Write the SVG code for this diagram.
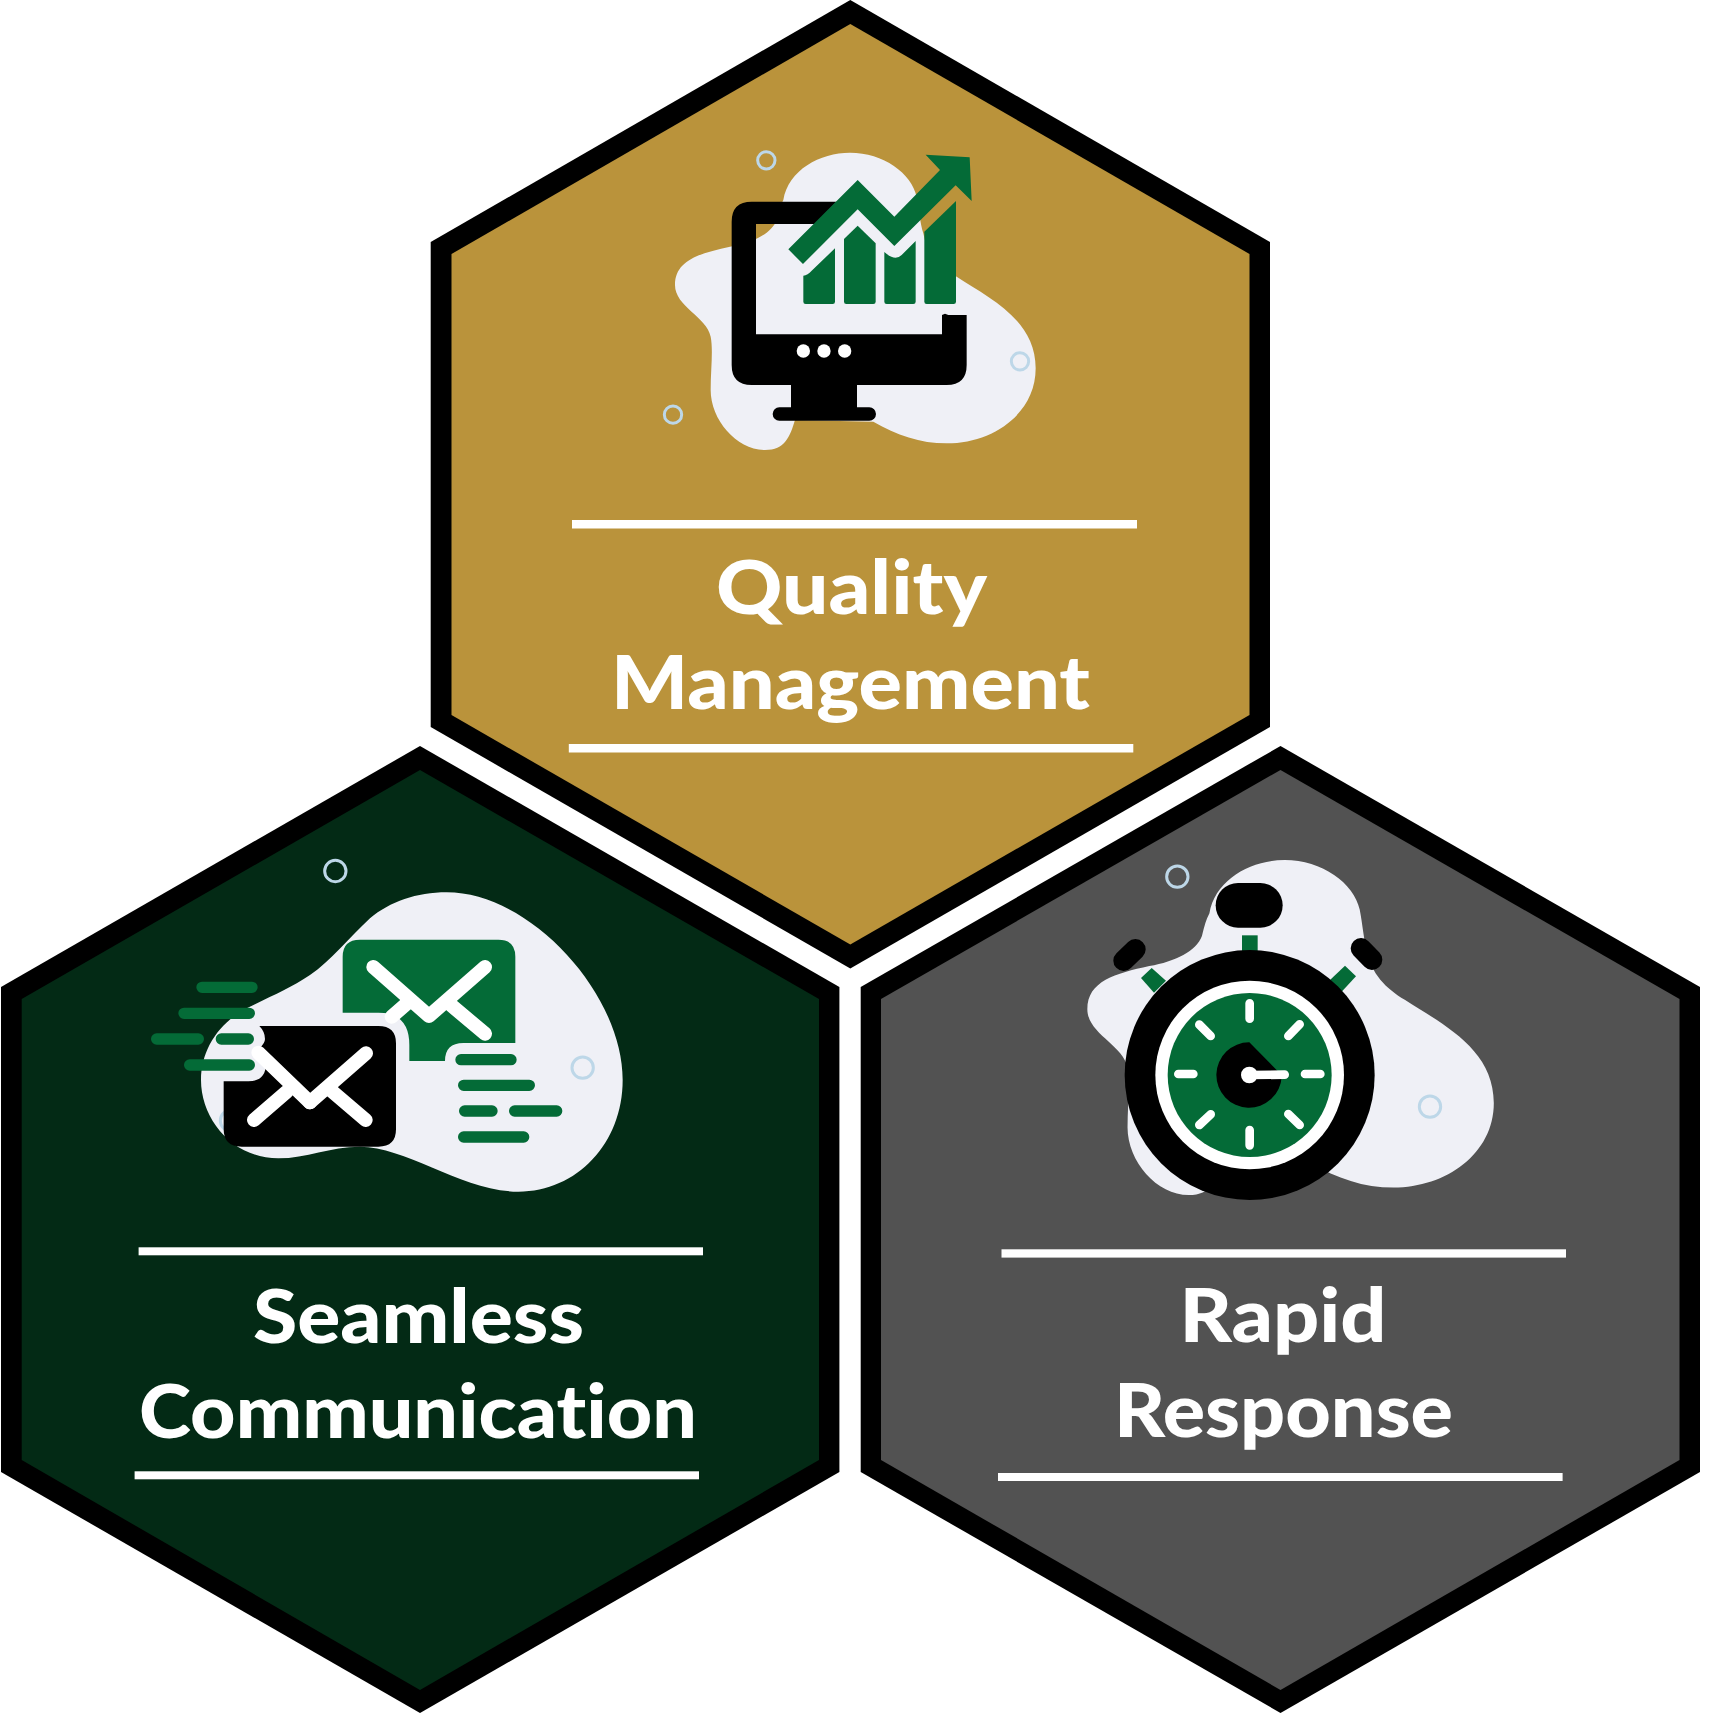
<svg xmlns="http://www.w3.org/2000/svg" xmlns:xlink="http://www.w3.org/1999/xlink" width="1724" height="1715" viewBox="0 0 1724 1715">
<style>
.t{font-family:"Lato","Noto Sans","Liberation Sans",sans-serif;font-weight:900;font-size:74px;fill:#fff;font-variant-ligatures:none}
.r{fill:#fff}
.b{fill:#EFF0F6}
.g{fill:#046B37}
.k{fill:#000}
.ring{fill:none;stroke:#BDD7E8;stroke-width:9}
.gb{stroke:#046B37;stroke-width:34;stroke-linecap:round;fill:none}
.w{stroke:#fff;stroke-linecap:round;stroke-linejoin:round;fill:none}
</style>
<defs>
<path id="blob" d="M630,98C730,98 815,160 830,230C838,270 840,310 850,340C860,400 900,440 950,470C1050,535 1187,600 1187,745C1187,880 1060,970 920,970C840,970 770,945 700,905L465,900C450,950 435,990 375,990C290,990 212,900 212,810C212,750 220,690 212,650C200,590 105,560 105,495C105,420 180,400 270,380C340,368 395,340 410,300C418,270 420,260 430,240C445,150 540,98 630,98Z"/>
</defs>
<rect width="1724" height="1715" fill="#fff"/>

<g id="quality-management">
<polygon class="k" points="850.3,0 1270,242 1270,727 850.3,968.5 430.7,727 430.7,242"/>
<polygon fill="#BA933B" points="850.3,24 1249.5,254 1249.5,715 850.3,944.5 451.5,715 451.5,254"/>
<g transform="translate(640 120) scale(.33333)">
<use xlink:href="#blob" href="#blob" class="b"/>
<circle class="ring" cx="379" cy="121" r="26"/><circle class="ring" cx="99" cy="884" r="26"/><circle class="ring" cx="1140" cy="724" r="26"/>
<path class="k" d="M590,245L335,245Q275,245 275,305L275,735Q275,795 335,795L453,795L453,862L418,862A20,20 0 0 0 418,902L688,902A20,20 0 0 0 688,862L651,862L651,795L920,795Q980,795 980,735L980,585L925,585L915,581L906,585L906,643L348,643L348,312L525,312Z"/>
<path class="g" d="M490,467Q503,465 515,452L585,385L585,545Q585,552 578,552L497,552Q490,552 490,545Z"/>
<path class="g" d="M612,357L653,317L707,370L707,545Q707,552 700,552L619,552Q612,552 612,545Z"/>
<path class="g" d="M733,396Q765,425 785,405L827,363L827,545Q827,552 820,552L740,552Q733,552 733,545Z"/>
<path class="g" d="M853,335L948,243L948,545Q948,552 941,552L860,552Q853,552 853,545Z"/>
<polygon class="g" points="445,388 653,180 763,290 900,150 857,104 989,112 995,243 947,196 763,378 653,268 489,432"/>
<circle class="r" cx="490" cy="693" r="20"/><circle class="r" cx="552" cy="693" r="20"/><circle class="r" cx="614" cy="693" r="20"/>
</g>
<rect class="r" x="572" y="520" width="565" height="8.5"/>
<text class="t" x="716" y="614" textLength="271" lengthAdjust="spacingAndGlyphs">Quality</text>
<text class="t" x="611" y="709" textLength="479" lengthAdjust="spacingAndGlyphs">Management</text>
<rect class="r" x="568.8" y="744" width="564.5" height="8.5"/>
</g>

<g id="seamless-communication">
<polygon class="k" points="420,746 839.4,987 839.4,1472 420,1713 1,1472 1,987"/>
<polygon fill="#032A15" points="420,770 819,999 819,1460 420,1690 21.7,1460 21.7,999"/>
<g transform="translate(130 860) scale(.33333)">
<circle class="ring" cx="616" cy="33" r="32"/>
<path class="b" d="M950,97C1200,97 1478,400 1478,660C1478,850 1340,995 1165,995C1000,995 830,860 690,860C600,860 530,895 445,895C310,895 213,780 213,660C213,570 265,490 350,445C430,405 480,385 540,345C600,305 660,230 720,175C780,125 860,97 950,97Z"/>
<circle class="ring" cx="1358" cy="623" r="32"/><circle class="ring" cx="303" cy="782" r="32"/>
<path class="g" d="M638,458L638,290Q638,239 690,239L1105,239Q1156,239 1156,290L1156,549L1000,549Q945,549 945,603L838,603L838,555Q838,458 745,458Z"/>
<path class="w" stroke-width="42" d="M730,321L897,468L1065,321M1065,521L965,437"/>
<path class="w" stroke-width="42" stroke-linecap="butt" d="M785,470L840,422"/>
<path class="k" d="M390,498L745,498Q798,498 798,550L798,808Q798,860 745,860L335,860Q281,860 281,808L281,664L355,664Q408,664 408,610Q408,585 388,565Q405,550 405,537Q405,515 388,498Z"/>
<path class="w" stroke-width="42" stroke-linecap="butt" d="M385,578L540,727"/>
<path class="w" stroke-width="42" d="M540,727L708,580M372,780L470,695M707,780L605,693"/>
<path class="gb" d="M216,382H366M162,460H358M80,537H205M274,537H355M179,615H358M993,599H1143M1001,676H1198M1004,753H1086M1154,753H1280M1001,831H1181"/>
</g>
<rect class="r" x="138.6" y="1247.3" width="564.4" height="8"/>
<text class="t" x="253" y="1342.7" textLength="331" lengthAdjust="spacingAndGlyphs">Seamless</text>
<text class="t" x="139" y="1438" textLength="558" lengthAdjust="spacingAndGlyphs">Communication</text>
<rect class="r" x="134.6" y="1471.3" width="564.4" height="8"/>
</g>

<g id="rapid-response">
<polygon class="k" points="1280.5,746 1700,987 1700,1472 1280.5,1713 860.7,1472 860.7,987"/>
<polygon fill="#525252" points="1280.5,770 1679.5,999 1679.5,1460 1280.5,1690 881,1460 881,999"/>
<g transform="translate(1080 850) scale(.33333)">
<use xlink:href="#blob" href="#blob" class="b" transform="translate(-96.3 -80.4) scale(1.127)"/>
<circle class="ring" cx="292" cy="80" r="32"/><circle class="ring" cx="1050" cy="770" r="32"/>
<rect class="k" x="407" y="99" width="201" height="134" rx="67"/>
<rect class="g" x="486" y="256" width="47" height="60"/>
<path d="M166,298L131,332M843,295L876,329" stroke="#000" stroke-width="62" stroke-linecap="round" fill="none"/>
<polygon class="g" points="215,354 258,392 222,428 183,384"/><polygon class="g" points="795,347 828,379 785,425 750,390"/>
<circle class="k" cx="509" cy="675" r="375"/>
<circle class="r" cx="509" cy="675" r="283"/>
<circle class="g" cx="509" cy="675" r="246"/>
<path class="k" d="M508,577A98,98 0 1 0 605,680L605,675L592,662Z"/>
<path class="w" stroke-width="26" d="M509,460V506M509,840V886M295,672H340M675,672H721M358,524L392,558M659,523L625,558M392,793L358,825M625,792L659,825M508,675L614,674"/>
<circle class="r" cx="508" cy="675" r="25"/>
</g>
<rect class="r" x="1001.5" y="1249.3" width="564.5" height="8.3"/>
<text class="t" x="1179.5" y="1341.7" textLength="207" lengthAdjust="spacingAndGlyphs">Rapid</text>
<text class="t" x="1114" y="1436.7" textLength="339" lengthAdjust="spacingAndGlyphs">Response</text>
<rect class="r" x="998" y="1473" width="564.6" height="8"/>
</g>
</svg>
